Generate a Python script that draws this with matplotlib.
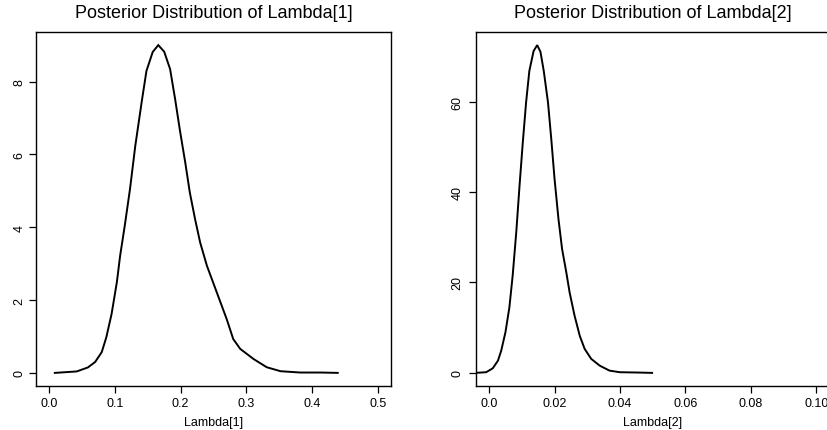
import matplotlib
matplotlib.use("Agg")
import matplotlib.pyplot as plt
import numpy as np

plt.rcParams['font.family'] = ['Liberation Sans', 'DejaVu Sans']

# posterior density of lambda[1]
lam1_x = [0.0086, 0.042, 0.059, 0.070, 0.080, 0.087, 0.095, 0.103, 0.108, 0.115,
          0.123, 0.131, 0.141, 0.148, 0.1575, 0.166, 0.175, 0.184, 0.1916, 0.199,
          0.207, 0.214, 0.222, 0.2297, 0.240, 0.255, 0.270, 0.280, 0.2906, 0.311,
          0.331, 0.352, 0.382, 0.413, 0.439]
lam1_d = [0.0, 0.04, 0.15, 0.30, 0.57, 0.98, 1.62, 2.49, 3.22, 4.04,
          5.05, 6.23, 7.47, 8.29, 8.81, 9.0, 8.82, 8.34, 7.52, 6.65,
          5.78, 4.95, 4.22, 3.58, 2.94, 2.21, 1.48, 0.93, 0.66, 0.38,
          0.155, 0.046, 0.01, 0.01, 0.0]

# posterior density of lambda[2]
lam2_x = [-0.0042, -0.0009, 0.0011, 0.0027, 0.0037, 0.0050, 0.0062, 0.0072, 0.0083, 0.0093,
          0.0103, 0.0113, 0.0123, 0.0136, 0.0147, 0.0157, 0.0167, 0.0180, 0.0190, 0.0200,
          0.0212, 0.0223, 0.0236, 0.0246, 0.0261, 0.0277, 0.0292, 0.0312, 0.0338, 0.0368,
          0.0399, 0.0460, 0.0498]
lam2_d = [0.0, 0.15, 1.0, 2.7, 4.9, 9.0, 14.5, 21.5, 31.1, 41.4,
          51.0, 59.8, 66.8, 71.2, 72.5, 71.0, 66.8, 59.8, 51.7, 42.9,
          34.0, 27.4, 22.2, 17.8, 12.7, 8.2, 5.3, 3.1, 1.6, 0.5,
          0.15, 0.07, 0.0]

x1_ticks = [0.0, 0.1, 0.2, 0.3, 0.4, 0.5]
x1_labels = ['0.0', '0.1', '0.2', '0.3', '0.4', '0.5']
y1_ticks = [0, 2, 4, 6, 8]
x2_ticks = [0.0, 0.02, 0.04, 0.06, 0.08, 0.10]
x2_labels = ['0.0', '0.02', '0.04', '0.06', '0.08', '0.10']
y2_ticks = [0, 20, 40, 60]

W, H = 827, 431
fig = plt.figure(figsize=(W / 100, H / 100), dpi=100)

ax1 = fig.add_axes([36 / W, 44 / H, 355 / W, 354 / H])
ax2 = fig.add_axes([476 / W, 44 / H, 353.5 / W, 354 / H])


def style(ax, x, d, xt, xl, yt, xlim, ylim, title, xlabel, ypad):
    ax.plot(x, d, color='black', lw=1.4, solid_joinstyle='miter')
    ax.set_xlim(*xlim)
    ax.set_ylim(*ylim)
    ax.set_xticks(xt)
    ax.set_xticklabels(xl)
    ax.set_yticks(yt)
    ax.set_yticklabels([str(v) for v in yt], rotation=90, va='center')
    ax.tick_params(direction='out', length=5, width=0.9, labelsize=9, pad=3)
    ax.tick_params(axis='y', pad=ypad)
    for s in ax.spines.values():
        s.set_linewidth(1.0)
    ax.set_title(title, fontsize=13, pad=11)
    ax.set_xlabel(xlabel, fontsize=9, labelpad=5)


style(ax1, lam1_x, lam1_d, x1_ticks, x1_labels, y1_ticks, (-0.02, 0.52), (-0.36, 9.36),
      'Posterior Distribution of Lambda[1]', 'Lambda[1]', 2.5)
style(ax2, lam2_x, lam2_d, x2_ticks, x2_labels, y2_ticks, (-0.004, 0.104), (-2.9, 75.4),
      'Posterior Distribution of Lambda[2]', 'Lambda[2]', 4)

fig.savefig('out.png', dpi=100)
